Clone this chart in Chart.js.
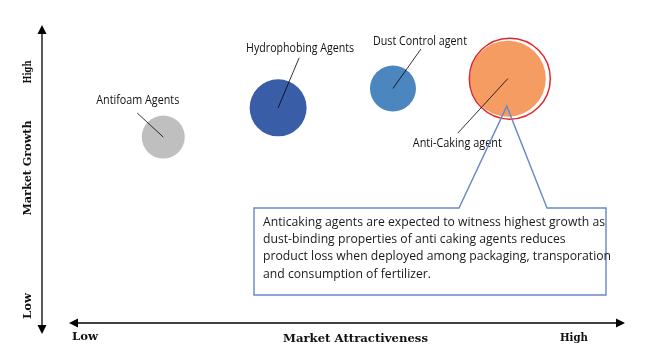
<!DOCTYPE html>
<html><head><meta charset="utf-8">
<style>html,body{margin:0;padding:0;background:#fff}canvas{display:block}</style>
<script src="https://cdn.jsdelivr.net/npm/chart.js@4.4.1/dist/chart.umd.min.js"></script>
</head><body>
<canvas id="c" width="646" height="358"></canvas>
<script>
// ---- data ----
const categories = ["Antifoam Agents", "Hydrophobing Agents", "Dust Control agent", "Anti-Caking agent"];
const attractiveness = [20.8, 40.5, 60.2, 79.9];   // x, 0 = Low, 100 = High
const growth = [62.4, 72.2, 78.7, 82.0];           // y, 0 = Low, 100 = High
const bubbleSize = [21.5, 28.5, 23, 38];
const xTickLabels = ["Low", "High"];
const yTickLabels = ["Low", "High"];
const xAxisTitle = "Market Attractiveness";
const yAxisTitle = "Market Growth";
const highlightIndex = 3;
const calloutLines = [
  "Anticaking agents are expected to witness highest growth as",
  "dust-binding properties of anti caking agents reduces",
  "product loss when deployed among packaging, transporation",
  "and consumption of fertilizer."
];

// ---- style ----
const colors = ['#BFBFBF', '#3A5DA8', '#4C86BF', '#F59C62'];
const labelStyle = [
  {dx: -67, dy: -36, w: 83, lx: -26, ly: -24},
  {dx: -32, dy: -59, w: 108, lx: 21, ly: -50},
  {dx: -20, dy: -46.5, w: 94, lx: 28, ly: -39.5},
  {dx: -95, dy: 64.5, w: 89, lx: -50, ly: 54.5}
];

function drawFitted(ctx, text, x, y, targetW, font, align, rot) {
  ctx.save();
  ctx.font = font;
  const m = ctx.measureText(text).width;
  const sx = targetW / m;
  ctx.translate(x, y);
  if (rot) ctx.rotate(rot);
  ctx.scale(sx, 1);
  ctx.textBaseline = 'middle';
  ctx.textAlign = align || 'center';
  ctx.fillText(text, 0, 0);
  ctx.restore();
}

function arrowHead(ctx, x, y, dir) {
  const L = 9, H = 4.5;
  ctx.beginPath();
  if (dir === 'up') { ctx.moveTo(x, y); ctx.lineTo(x - H, y + L); ctx.lineTo(x + H, y + L); }
  if (dir === 'down') { ctx.moveTo(x, y); ctx.lineTo(x - H, y - L); ctx.lineTo(x + H, y - L); }
  if (dir === 'left') { ctx.moveTo(x, y); ctx.lineTo(x + L, y - H); ctx.lineTo(x + L, y + H); }
  if (dir === 'right') { ctx.moveTo(x, y); ctx.lineTo(x - L, y - H); ctx.lineTo(x - L, y + H); }
  ctx.closePath();
  ctx.fill();
}

const decor = {
  id: 'decor',
  beforeDatasetsDraw(chart) {
    const ctx = chart.ctx, a = chart.chartArea;
    ctx.save();
    ctx.strokeStyle = '#000'; ctx.fillStyle = '#000'; ctx.lineWidth = 1.3;
    const yx = a.left, yTop = a.top, yBot = a.bottom + 11;
    ctx.beginPath(); ctx.moveTo(yx, yTop + 4); ctx.lineTo(yx, yBot - 4); ctx.stroke();
    arrowHead(ctx, yx, yTop, 'up'); arrowHead(ctx, yx, yBot, 'down');
    const xy = a.bottom, xL = a.left + 27, xR = a.right;
    ctx.beginPath(); ctx.moveTo(xL + 4, xy); ctx.lineTo(xR - 4, xy); ctx.stroke();
    arrowHead(ctx, xL, xy, 'left'); arrowHead(ctx, xR, xy, 'right');
    const sf = 'bold 11.5px "DejaVu Serif"';
    ctx.fillStyle = '#111';
    drawFitted(ctx, xTickLabels[0], a.left + 43, a.bottom + 14, 26, sf);
    drawFitted(ctx, xTickLabels[1], a.right - 51, a.bottom + 15, 28, sf);
    drawFitted(ctx, xAxisTitle, (a.left + a.right) / 2 + 22, a.bottom + 16.5, 145, sf);
    drawFitted(ctx, yTickLabels[1], a.left - 14, a.top + 47, 23, sf, 'center', -Math.PI / 2);
    drawFitted(ctx, yAxisTitle, a.left - 14, a.top + 143, 95, sf, 'center', -Math.PI / 2);
    drawFitted(ctx, yTickLabels[0], a.left - 14, a.bottom - 17, 26, sf, 'center', -Math.PI / 2);
    ctx.restore();
  },
  afterDatasetsDraw(chart) {
    const ctx = chart.ctx;
    const meta = chart.getDatasetMeta(0);
    ctx.save();
    const h = meta.data[highlightIndex];
    const hr = h.options.radius;
    ctx.strokeStyle = '#E3262D'; ctx.lineWidth = 1.5;
    ctx.beginPath(); ctx.arc(h.x + 2, h.y, hr + 2.5, 0, Math.PI * 2); ctx.stroke();
    meta.data.forEach((el, i) => {
      const s = labelStyle[i];
      ctx.strokeStyle = '#000'; ctx.lineWidth = 0.8;
      ctx.beginPath(); ctx.moveTo(el.x + s.lx, el.y + s.ly); ctx.lineTo(el.x, el.y); ctx.stroke();
      ctx.fillStyle = '#111';
      drawFitted(ctx, categories[i], el.x + s.dx, el.y + s.dy, s.w, '11.8px "Open Sans"', 'left');
    });
    const apx = h.x - 1, apy = h.y + 27.5;
    const L = 254, T = 208, R = 606, B = 295, b1 = 459, b2 = 547;
    ctx.strokeStyle = '#6A87C6'; ctx.lineWidth = 1.4;
    ctx.beginPath();
    ctx.moveTo(L, T); ctx.lineTo(b1, T); ctx.lineTo(apx, apy); ctx.lineTo(b2, T);
    ctx.lineTo(R, T); ctx.lineTo(R, B); ctx.lineTo(L, B); ctx.closePath();
    ctx.stroke();
    ctx.fillStyle = '#1a1a1a';
    ctx.font = '13.5px "Open Sans"';
    const sx = 342 / ctx.measureText(calloutLines[0]).width;
    calloutLines.forEach((t, i) => {
      ctx.save();
      ctx.translate(263, 222 + i * 17.3);
      ctx.scale(sx, 1);
      ctx.textBaseline = 'middle'; ctx.textAlign = 'left';
      ctx.fillText(t, 0, 0);
      ctx.restore();
    });
    ctx.restore();
  }
};

new Chart(document.getElementById('c'), {
  type: 'bubble',
  data: {
    labels: categories,
    datasets: [{
      data: categories.map((c, i) => ({x: attractiveness[i], y: growth[i], r: bubbleSize[i]})),
      backgroundColor: colors,
      borderWidth: 0,
      hoverRadius: 0
    }]
  },
  options: {
    responsive: false,
    devicePixelRatio: 1,
    animation: false,
    events: [],
    clip: false,
    layout: {autoPadding: false, padding: {left: 42, right: 21, top: 25, bottom: 35}},
    plugins: {legend: {display: false}, tooltip: {enabled: false}},
    scales: {
      x: {type: 'linear', min: 0, max: 100, display: false},
      y: {type: 'linear', min: 0, max: 100, display: false}
    }
  },
  plugins: [decor]
});
</script>
</body></html>
